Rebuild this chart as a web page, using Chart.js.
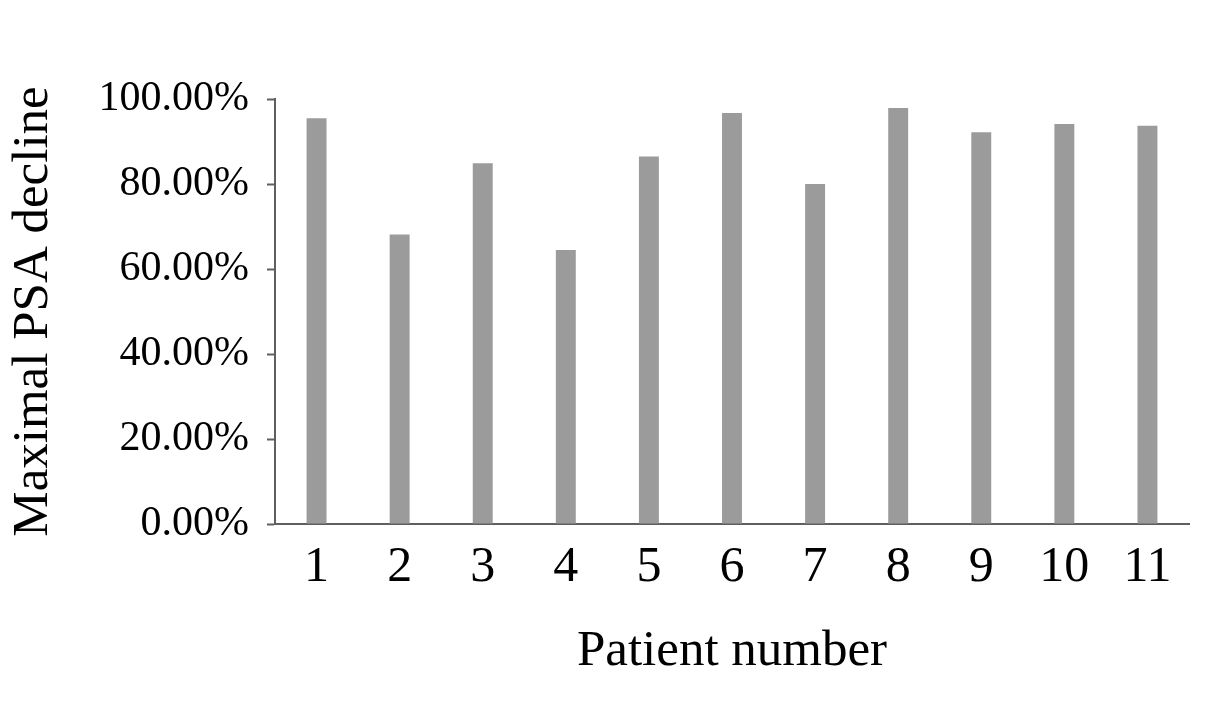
<!DOCTYPE html>
<html>
<head>
<meta charset="utf-8">
<script src="https://cdn.jsdelivr.net/npm/chart.js@4.4.1/dist/chart.umd.min.js"></script>
<style>
  html, body { margin: 0; padding: 0; background: #ffffff; }
  #wrap { width: 1205px; height: 709px; }
</style>
</head>
<body>
<div id="wrap"><canvas id="c" width="1205" height="709"></canvas></div>
<script>
const categories = ['1', '2', '3', '4', '5', '6', '7', '8', '9', '10', '11'];
const declinePct = [95.5, 68.1, 84.9, 64.5, 86.5, 96.7, 80.0, 97.9, 92.2, 94.1, 93.7];
const yTickValues = [0, 20, 40, 60, 80, 100];
const yTitle = 'Maximal PSA decline';
const xTitle = 'Patient number';

const FONT = '"Liberation Serif", "Times New Roman", serif';
const AXIS = '#5f5f5f';

new Chart(document.getElementById('c'), {
  type: 'bar',
  data: {
    labels: categories,
    datasets: [{
      data: declinePct,
      backgroundColor: '#9b9b9b',
      borderWidth: 0,
      barPercentage: 0.24,
      categoryPercentage: 1.0
    }]
  },
  options: {
    responsive: false,
    animation: false,
    events: [],
    layout: { padding: { top: 99, right: 16, bottom: 0, left: 0 } },
    plugins: { legend: { display: false }, tooltip: { enabled: false } },
    scales: {
      x: {
        offset: true,
        grid: { display: false, drawTicks: false },
        border: { display: true, color: AXIS, width: 2 },
        ticks: { color: '#000', font: { family: FONT, size: 50 }, padding: 14, maxRotation: 0, autoSkip: false },
        title: { display: true, text: xTitle, color: '#000', font: { family: FONT, size: 51 }, padding: { top: 0, bottom: 27 } },
        afterFit: (s) => { s.height = 709 - 524; }
      },
      y: {
        min: 0, max: 100,
        afterBuildTicks: (s) => { s.ticks = yTickValues.map(v => ({ value: v })); },
        grid: { drawOnChartArea: false, drawTicks: true, tickLength: 8, tickColor: AXIS, tickWidth: 2 },
        border: { display: true, color: AXIS, width: 2 },
        ticks: { color: '#000', font: { family: FONT, size: 42 }, padding: 18, callback: (v) => Number(v).toFixed(2) + '%' },
        title: { display: true, text: yTitle, color: '#000', font: { family: FONT, size: 51 }, padding: { top: 3, bottom: 0 } },
        afterFit: (s) => { s.width = 275; }
      }
    }
  }
});
</script>
</body>
</html>
